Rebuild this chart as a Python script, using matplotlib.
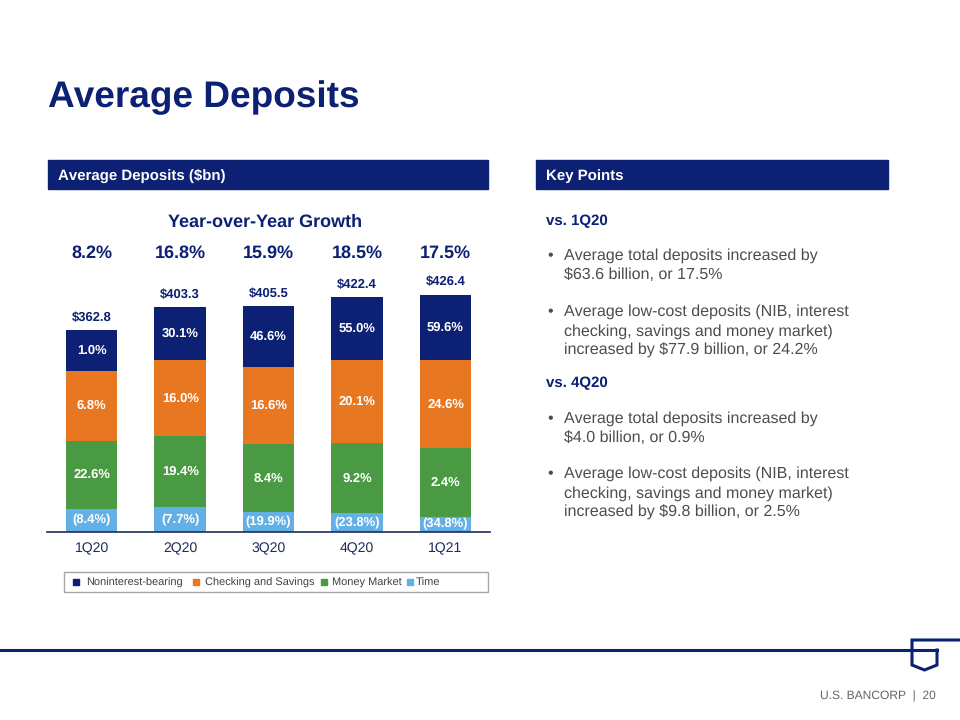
import numpy as np
import matplotlib
matplotlib.use("Agg")
import matplotlib.pyplot as plt
from matplotlib.patches import Rectangle
from matplotlib.lines import Line2D

plt.rcParams['font.family'] = ['Liberation Sans', 'DejaVu Sans']
plt.rcParams['text.hinting'] = 'no_hinting'
plt.rcParams['text.hinting_factor'] = 1

# data ($bn)
quarters = ['1Q20', '2Q20', '3Q20', '4Q20', '1Q21']
totals = [362.8, 403.3, 405.5, 422.4, 426.4]
time_dep = [41.8, 44.2, 35.3, 33.5, 27.3]
money_mkt = [121.5, 128.0, 123.2, 126.8, 123.9]
check_sav = [125.8, 135.9, 137.6, 147.9, 156.8]
nib = [73.7, 95.2, 109.4, 114.2, 118.4]
yoy_total = ['8.2%', '16.8%', '15.9%', '18.5%', '17.5%']
yoy_time = ['(8.4%)', '(7.7%)', '(19.9%)', '(23.8%)', '(34.8%)']
yoy_mm = ['22.6%', '19.4%', '8.4%', '9.2%', '2.4%']
yoy_cs = ['6.8%', '16.0%', '16.6%', '20.1%', '24.6%']
yoy_nib = ['1.0%', '30.1%', '46.6%', '55.0%', '59.6%']
series_names = ['Noninterest-bearing', 'Checking and Savings', 'Money Market', 'Time']

NAVY = '#0c2074'
ORANGE = '#e87722'
GREEN = '#4a9a44'
LBLUE = '#62b0e6'
GRAY = '#4d4d4d'

W, H = 960, 720
fig = plt.figure(figsize=(9.6, 7.2), dpi=100)

def fx(px):
    return px / W

def fy(py):
    return 1 - py / H

def ftext(x, y, s, **kw):
    fig.text(fx(x), fy(y), s, va='baseline', **kw)

def frect(x0, y0, x1, y1, **kw):
    # pixel box, y measured from the top
    fig.patches.append(Rectangle((fx(x0), fy(y1)), fx(x1 - x0), (y1 - y0) / H,
                                 transform=fig.transFigure, **kw))

# title
ftext(48, 107, 'Average Deposits', color=NAVY, fontsize=26.7, fontweight='bold')

# section headers
for x0, x1, label in [(48, 488, 'Average Deposits ($bn)'), (536, 888, 'Key Points')]:
    frect(x0, 160, x1, 189, color=NAVY, zorder=0)
    ftext(x0 + 10, 180, label, color='white', fontsize=10.5, fontweight='bold')

# chart
ax = fig.add_axes([fx(47), fy(532), fx(490 - 47), (532 - 270) / H])
x = np.arange(len(quarters))
wd = 0.58
b_time = ax.bar(x, time_dep, wd, color=LBLUE)
b_mm = ax.bar(x, money_mkt, wd, bottom=time_dep, color=GREEN)
bot_cs = np.array(time_dep) + np.array(money_mkt)
b_cs = ax.bar(x, check_sav, wd, bottom=bot_cs, color=ORANGE)
bot_nib = bot_cs + np.array(check_sav)
b_nib = ax.bar(x, nib, wd, bottom=bot_nib, color=NAVY)

for bars, labels in [(b_time, yoy_time), (b_mm, yoy_mm), (b_cs, yoy_cs), (b_nib, yoy_nib)]:
    ax.bar_label(bars, labels=labels, label_type='center', color='white',
                 fontsize=9.5, fontweight='bold')

for xi, t in zip(x, totals):
    ax.annotate(f'${t:.1f}', (xi, t), xytext=(0, 6.5), textcoords='offset points',
                ha='center', va='baseline', color=NAVY, fontsize=9.5, fontweight='bold')

ax.set_xlim(-0.505, 4.503)
ax.set_ylim(0, 470.4)
for s in ['top', 'right', 'left']:
    ax.spines[s].set_visible(False)
ax.spines['bottom'].set_color('#1f2a5c')
ax.spines['bottom'].set_linewidth(1.2)
ax.set_yticks([])
ax.set_xticks(x)
ax.set_xticklabels(quarters, color='#1f2a5c', fontsize=10)
ax.tick_params(axis='x', length=0, pad=7)

# yoy growth row
ftext(265, 227, 'Year-over-Year Growth', ha='center', color=NAVY, fontsize=13, fontweight='bold')
for xi, g in zip(x, yoy_total):
    px = 47 + (xi + 0.505) / (4.503 + 0.505) * (490 - 47)
    ftext(px, 258, g, ha='center', color=NAVY, fontsize=13, fontweight='bold')

# legend box, laid out like the slide
frect(64, 572, 488, 592, facecolor='white', edgecolor='#a6a6a6', lw=1.0)
for name, col, sx, tx in zip(series_names, [NAVY, ORANGE, GREEN, LBLUE],
                             [73, 193, 321, 407], [86, 205, 332, 416]):
    frect(sx, 579, sx + 5.5, 584.5, color=col)
    ftext(tx, 585.5, name, color='#404040', fontsize=7.6)

# key points
ftext(546, 225, 'vs. 1Q20', color=NAVY, fontsize=10.5, fontweight='bold')
ftext(546, 387, 'vs. 4Q20', color=NAVY, fontsize=10.5, fontweight='bold')
bullets = [
    (260, ['Average total deposits increased by', '$63.6 billion, or 17.5%']),
    (316, ['Average low-cost deposits (NIB, interest',
           'checking, savings and money market)',
           'increased by $77.9 billion, or 24.2%']),
    (423, ['Average total deposits increased by', '$4.0 billion, or 0.9%']),
    (478, ['Average low-cost deposits (NIB, interest',
           'checking, savings and money market)',
           'increased by $9.8 billion, or 2.5%']),
]
for y0, lines in bullets:
    ftext(547, y0, '\u2022', color=GRAY, fontsize=11.5)
    for i, ln in enumerate(lines):
        ftext(564, y0 + i * 19.2, ln, color=GRAY, fontsize=11.5)

# footer line and logo
fig.add_artist(Line2D([0, fx(937)], [fy(650), fy(650)], transform=fig.transFigure,
                      color=NAVY, lw=2.2))
shield_x = [fx(960), fx(912), fx(912), fx(924.5), fx(937), fx(937)]
shield_y = [fy(640), fy(640), fy(665), fy(670), fy(665), fy(650)]
fig.add_artist(Line2D(shield_x, shield_y, transform=fig.transFigure, color=NAVY, lw=2.2,
                      solid_joinstyle='miter'))
ftext(936, 699, 'U.S. BANCORP  |  20', ha='right', color='#666666', fontsize=8.5)

fig.savefig('out.png', dpi=100)
